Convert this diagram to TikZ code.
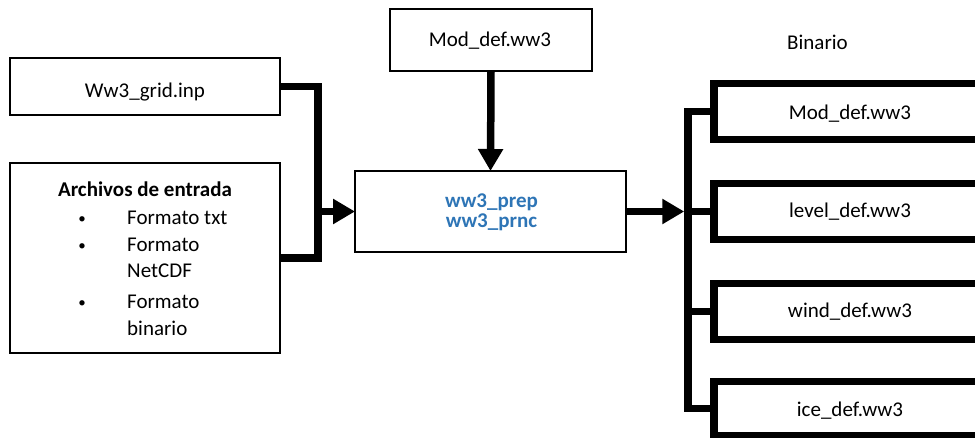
\documentclass[tikz,border=0pt]{standalone}
\usepackage{fontspec}
\setmainfont{Carlito}
\usetikzlibrary{arrows.meta}
\definecolor{progblue}{RGB}{46,117,182}
\begin{document}
\begin{tikzpicture}[x=1pt,y=-1pt,
  thinbox/.style={draw, line width=1.6pt, inner sep=0pt, outer sep=0pt},
  thickbox/.style={draw, line width=7.5pt, inner sep=0pt, outer sep=0pt},
  txt/.style={anchor=base, inner sep=0pt, font=\fontsize{21}{25}\selectfont},
  txtl/.style={txt, anchor=base west},
  dot/.style={anchor=base, inner sep=0pt, font=\fontsize{15}{15}\selectfont},
  flow/.style={line width=7.5pt},
  tip/.style={-{Triangle[length=22pt,width=24pt]}}
]
\useasboundingbox (0,0) rectangle (975,438);
\clip (0,0) rectangle (975,438);

% input files
\node[thinbox, minimum width=270pt, minimum height=57pt] (grid) at (145,86.5) {};
\node[thinbox, minimum width=270pt, minimum height=190pt] (arch) at (145,258) {};
\node[thinbox, minimum width=202pt, minimum height=62pt] (moddef) at (491,40) {};

% preprocessing programs
\node[thinbox, minimum width=271pt, minimum height=81pt] (prep) at (490.5,211.5) {};

% binary outputs
\node[thickbox, minimum width=286pt, minimum height=56pt] (r1) at (857,111.5) {};
\node[thickbox, minimum width=286pt, minimum height=56pt] (r2) at (857,211.5) {};
\node[thickbox, minimum width=286pt, minimum height=56pt] (r3) at (857,311.5) {};
\node[thickbox, minimum width=286pt, minimum height=54pt] (r4) at (857,408.5) {};

% texts
\node[txt] (tgrid) at (145,98) {Ww3\_grid.inp};
\node[txt, font=\fontsize{21}{25}\selectfont\bfseries] (tarch) at (145,197) {Archivos de entrada};
\node[dot] (b1) at (82,224) {\textbullet};
\node[dot] (b2) at (82,251) {\textbullet};
\node[dot] (b3) at (82,308) {\textbullet};
\node[txtl] (f1) at (127,225) {Formato txt};
\node[txtl] (f2) at (127,252) {Formato};
\node[txtl] (f3) at (127,278) {NetCDF};
\node[txtl] (f4) at (127,309) {Formato};
\node[txtl] (f5) at (127,336) {binario};
\node[txt] (tmod) at (490,47) {Mod\_def.ww3};
\node[txt, text=progblue, font=\fontsize{21}{25}\selectfont\bfseries] (tp1) at (491.5,208) {ww3\_prep};
\node[txt, text=progblue, font=\fontsize{21}{25}\selectfont\bfseries] (tp2) at (491.5,228) {ww3\_prnc};
\node[txt] (tbin) at (817.5,50) {Binario};
\node[txt] (t1) at (850,120) {Mod\_def.ww3};
\node[txt] (t2) at (850,218) {level\_def.ww3};
\node[txt] (t3) at (850,318) {wind\_def.ww3};
\node[txt] (t4) at (850,417) {ice\_def.ww3};

% connectors into the programs
\coordinate (jin) at (318,211.5);
\draw[flow] (grid.east) -| (jin);
\draw[flow] (arch.east) -| (jin);
\draw[flow,tip] (jin) -- (prep.west);
\draw[flow,tip] (moddef.south) -- (prep.north);

% bus to the binary files
\coordinate (bus) at (688,211.5);
\draw[flow] (r1.west) -| (bus);
\draw[flow] (r4.west) -| (bus);
\draw[flow] (r2.west) -- (bus);
\draw[flow] (r3.west) -- (r3.west -| bus);
\draw[flow,tip] (prep.east) -- ([xshift=-3.75pt]bus);
\end{tikzpicture}
\end{document}
